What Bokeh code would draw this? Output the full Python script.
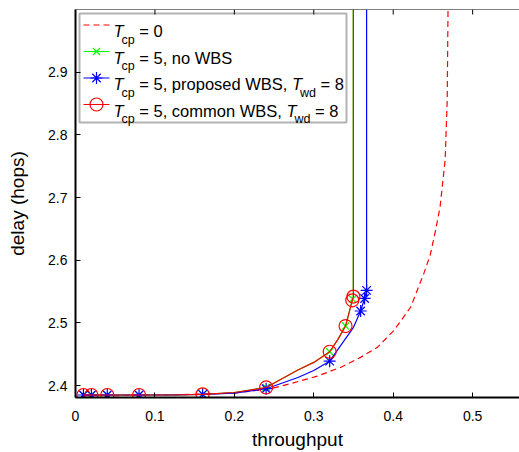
from bokeh.plotting import figure
from bokeh.models import Range1d, FixedTicker, BoxAnnotation, Label, Span
from bokeh.embed import file_html
from bokeh.resources import INLINE

# ---------------- data ----------------
x_ticks = [0, 0.1, 0.2, 0.3, 0.4, 0.5]
x_tick_labels = ["0", "0.1", "0.2", "0.3", "0.4", "0.5"]
y_ticks = [2.4, 2.5, 2.6, 2.7, 2.8, 2.9]
y_tick_labels = ["2.4", "2.5", "2.6", "2.7", "2.8", "2.9"]
x_label = "throughput"
y_label = "delay (hops)"

# T_cp = 0 (dashed red)
tcp0_t = [0.01, 0.05, 0.10, 0.15, 0.20, 0.2455, 0.2707, 0.3043, 0.3337, 0.3589,
          0.380, 0.4009, 0.4219, 0.4386, 0.4465, 0.4534, 0.459, 0.4654, 0.468, 0.469]
tcp0_d = [2.384, 2.384, 2.385, 2.386, 2.388, 2.395, 2.403, 2.415, 2.429, 2.445,
          2.461, 2.488, 2.525, 2.579, 2.608, 2.648, 2.685, 2.76, 2.856, 3.0]

# T_cp = 5, no WBS (green, x markers)
nowbs_line_t = [0.01, 0.12, 0.16, 0.20, 0.24, 0.28, 0.30, 0.32, 0.33, 0.34, 0.3488, 0.3496, 0.3496]
nowbs_line_d = [2.385, 2.385, 2.386, 2.389, 2.397, 2.425, 2.437, 2.454, 2.473, 2.495, 2.538, 2.541, 3.0]
nowbs_mark_t = [0.01, 0.02, 0.04, 0.08, 0.16, 0.24, 0.32, 0.34, 0.3488]
nowbs_mark_d = [2.385, 2.385, 2.385, 2.385, 2.386, 2.397, 2.454, 2.495, 2.538]

# T_cp = 5, proposed WBS, T_wd = 8 (blue, asterisks)
prop_line_t = [0.01, 0.12, 0.16, 0.20, 0.24, 0.28, 0.30, 0.32, 0.34, 0.35, 0.359, 0.364, 0.3665, 0.3665]
prop_line_d = [2.385, 2.385, 2.386, 2.388, 2.395, 2.413, 2.424, 2.439, 2.475, 2.493, 2.519, 2.539, 2.552, 3.0]
prop_mark_t = [0.01, 0.02, 0.04, 0.08, 0.16, 0.24, 0.32, 0.359, 0.364, 0.3665]
prop_mark_d = [2.385, 2.385, 2.385, 2.385, 2.386, 2.395, 2.439, 2.519, 2.539, 2.552]

# T_cp = 5, common WBS, T_wd = 8 (red, circles)
comm_line_t = [0.01, 0.12, 0.16, 0.20, 0.24, 0.28, 0.30, 0.32, 0.33, 0.34, 0.3485, 0.3499, 0.3499]
comm_line_d = [2.385, 2.385, 2.386, 2.389, 2.397, 2.425, 2.437, 2.454, 2.473, 2.495, 2.536, 2.542, 3.0]
comm_mark_t = [0.01, 0.02, 0.04, 0.08, 0.16, 0.24, 0.32, 0.34, 0.3485, 0.3499]
comm_mark_d = [2.385, 2.385, 2.385, 2.385, 2.386, 2.397, 2.454, 2.495, 2.536, 2.542]

legend_rows = [
    ("T", "cp", " = 0", None),
    ("T", "cp", " = 5, no WBS", None),
    ("T", "cp", " = 5, proposed WBS, ", ("T", "wd", " = 8")),
    ("T", "cp", " = 5, common WBS, ", ("T", "wd", " = 8")),
]

# ---------------- layout ----------------
W, H = 519, 452
FL, FR, FT, FB = 75, 519, 9, 397
XS, XE = 0.0, 0.559
YS, YE = 2.381, 3.0
FONT = "Liberation Sans"

p = figure(width=W, height=H, output_backend="svg", toolbar_location=None,
           x_range=Range1d(XS, XE), y_range=Range1d(YS, YE),
           min_border_left=FL, min_border_right=W - FR, min_border_top=FT,
           min_border_bottom=H - FB)
p.outline_line_color = None
p.grid.visible = False
p.background_fill_color = "white"
p.border_fill_color = "white"


def dx(px):
    return XS + (px - FL) * (XE - XS) / (FR - FL)


def dy(py):
    return YE - (py - FT) * (YE - YS) / (FB - FT)


def style_axis(ax, lw):
    ax.axis_line_color = "black"
    ax.axis_line_width = lw
    ax.major_tick_in = 5
    ax.major_tick_out = 0
    ax.major_tick_line_color = "black"
    ax.major_tick_line_width = 1
    ax.minor_tick_line_color = None
    ax.major_label_text_font = FONT
    ax.major_label_text_font_size = "14px"
    ax.major_label_text_color = "black"
    ax.axis_label_text_font = FONT
    ax.axis_label_text_font_size = "19px"
    ax.axis_label_text_font_style = "normal"
    ax.axis_label_text_color = "black"


xa = p.xaxis[0]
xa.ticker = FixedTicker(ticks=x_ticks)
xa.major_label_overrides = {t: l for t, l in zip(x_ticks, x_tick_labels)}
xa.axis_label = x_label
style_axis(xa, 2)
xa.major_label_standoff = 13
xa.axis_label_standoff = 5

ya = p.yaxis[0]
ya.ticker = FixedTicker(ticks=y_ticks)
ya.major_label_overrides = {t: l for t, l in zip(y_ticks, y_tick_labels)}
ya.axis_label = y_label
style_axis(ya, 2)
ya.major_label_standoff = 8
ya.axis_label_standoff = 17

# top frame line with inward ticks
p.add_layout(Span(location=YE, dimension="width", line_color="black", line_width=1))
p.segment(x0=x_ticks, y0=[YE] * len(x_ticks), x1=x_ticks, y1=[dy(FT + 5)] * len(x_ticks),
          line_color="black", line_width=1)

# ---------------- series ----------------
RED, GREEN, BLUE = "#FF0000", "#00FF00", "#0000FF"

p.line(tcp0_t, tcp0_d, line_color=RED, line_width=1.2, line_dash="6 4")

p.line(nowbs_line_t, nowbs_line_d, line_color=GREEN, line_width=1.2)
p.scatter(nowbs_mark_t, nowbs_mark_d, marker="x", size=10, line_color=GREEN, line_width=1.2)

p.line(prop_line_t, prop_line_d, line_color=BLUE, line_width=1.2)
p.scatter(prop_mark_t, prop_mark_d, marker="asterisk", size=12, line_color=BLUE, line_width=1.2)

p.line(comm_line_t, comm_line_d, line_color=RED, line_width=1.2)
p.scatter(comm_mark_t, comm_mark_d, marker="circle", size=13, line_color=RED,
          fill_color=None, line_width=1.2)

# ---------------- legend (hand-built for subscripts) ----------------
AW = {' ': 278, '=': 584, '0': 556, '5': 556, '8': 556, ',': 278, 'n': 556, 'o': 556,
      'W': 944, 'B': 667, 'S': 667, 'p': 556, 'r': 333, 's': 500, 'e': 556, 'd': 556,
      'c': 500, 'm': 833, 'w': 722, 'T': 611}


def tw(s, size):
    return sum(AW.get(ch, 556) for ch in s) * size / 1000.0


box = BoxAnnotation(left=dx(79), right=dx(346), top=dy(13), bottom=dy(122),
                    fill_color="white", fill_alpha=1.0, line_color="black",
                    line_width=2, level="underlay")
p.add_layout(box)

FS, SS = 16.5, 12.5
baselines = [30.5, 57, 83.5, 110]
sample_styles = [
    dict(color=RED, dash="6 4", marker=None),
    dict(color=GREEN, dash="solid", marker="x"),
    dict(color=BLUE, dash="solid", marker="asterisk"),
    dict(color=RED, dash="solid", marker="circle"),
]


def add_text(x, y, s, size, italic=False):
    lead = len(s) - len(s.lstrip(" "))
    txt = s.strip(" ")
    p.add_layout(Label(x=dx(x + tw(" " * lead, size)), y=dy(y), text=txt, text_font=FONT,
                       text_font_size=f"{size}px",
                       text_font_style="italic" if italic else "normal",
                       text_baseline="alphabetic", text_color="black"))
    return x + tw(s, size)


for base, row, st in zip(baselines, legend_rows, sample_styles):
    ly = dy(base - 6)
    p.line([dx(83), dx(109)], [ly, ly], line_color=st["color"], line_width=1.2,
           line_dash=st["dash"])
    if st["marker"] == "x":
        p.scatter([dx(96)], [ly], marker="x", size=10, line_color=st["color"], line_width=1.2)
    elif st["marker"] == "asterisk":
        p.scatter([dx(96)], [ly], marker="asterisk", size=12, line_color=st["color"], line_width=1.2)
    elif st["marker"] == "circle":
        p.scatter([dx(96)], [ly], marker="circle", size=13, line_color=st["color"],
                  fill_color=None, line_width=1.2)

    pieces = [row[:3]] + ([row[3]] if row[3] else [])
    x = 113.0
    for (main, sub, rest) in pieces:
        add_text(x, base, main, FS, italic=True)
        x += 8
        x = add_text(x, base + 8.5, sub, SS)
        x = add_text(x, base, rest, FS)

open("out.html", "w").write(file_html(p, INLINE))
